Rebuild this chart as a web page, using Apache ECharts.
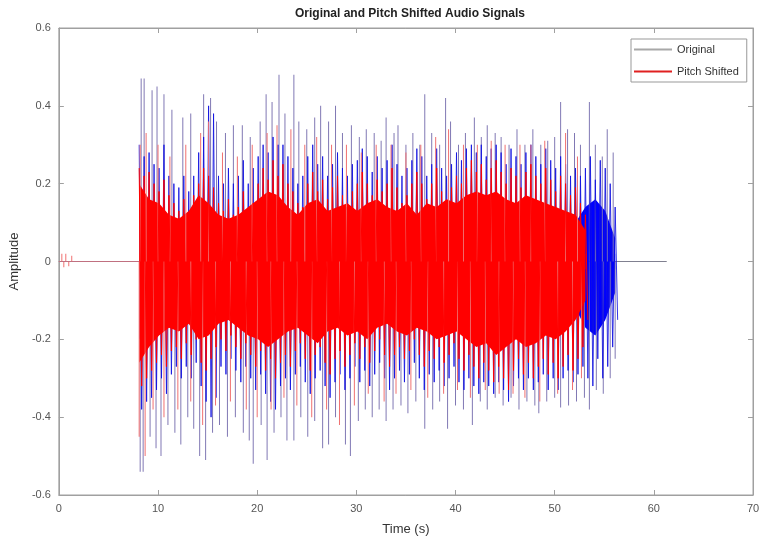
<!DOCTYPE html>
<html>
<head>
<meta charset="utf-8">
<script src="https://cdn.jsdelivr.net/npm/echarts@6/dist/echarts.min.js"></script>
<style>
  html, body { margin: 0; padding: 0; background: #fff; }
  #chart { width: 764px; height: 546px; }
</style>
</head>
<body>
<div id="chart"></div>
<script>
// tick labels
const xTicks = [0, 10, 20, 30, 40, 50, 60, 70]
const yTicks = [-0.6, -0.4, -0.2, 0, 0.2, 0.4, 0.6]

// silent parts of the two signals (time s, amplitude)
const origFlat = [[0, 0], [61.3, 0]]
const shiftFlat = [[0, 0], [8.1, 0]]

// solid core of each signal, one value per second from 8.1 s
const coreStart = 8.1
const coreStep = 1
const origCoreHi = [
  0.16, 0.13, 0.12, 0.1, 0.1, 0.11, 0.14, 0.12, 0.1, 0.1,
  0.1, 0.12, 0.13, 0.15, 0.14, 0.12, 0.1, 0.12, 0.13, 0.11,
  0.12, 0.12, 0.11, 0.12, 0.13, 0.12, 0.11, 0.12, 0.1, 0.12,
  0.12, 0.13, 0.12, 0.14, 0.15, 0.14, 0.15, 0.13, 0.12, 0.14,
  0.13, 0.12, 0.12, 0.11, 0.1, 0.14, 0.16, 0.13, 0.06
]
const origCoreLo = [
  -0.2, -0.17, -0.15, -0.13, -0.14, -0.12, -0.16, -0.15, -0.12, -0.12,
  -0.13, -0.15, -0.16, -0.17, -0.16, -0.14, -0.13, -0.15, -0.16, -0.14,
  -0.13, -0.15, -0.14, -0.16, -0.13, -0.12, -0.14, -0.15, -0.13, -0.14,
  -0.16, -0.15, -0.14, -0.16, -0.17, -0.16, -0.19, -0.17, -0.16, -0.17,
  -0.16, -0.15, -0.16, -0.14, -0.12, -0.17, -0.19, -0.15, -0.08
]
const shiftCoreHi = [
  0.2, 0.16, 0.15, 0.12, 0.11, 0.13, 0.17, 0.15, 0.12, 0.11,
  0.12, 0.14, 0.16, 0.18, 0.17, 0.14, 0.12, 0.15, 0.16, 0.13,
  0.14, 0.15, 0.13, 0.15, 0.16, 0.14, 0.13, 0.15, 0.12, 0.15,
  0.14, 0.16, 0.15, 0.17, 0.18, 0.17, 0.18, 0.16, 0.15, 0.17,
  0.16, 0.15, 0.14, 0.13, 0.12, 0.08
]
const shiftCoreLo = [
  -0.26, -0.22, -0.19, -0.17, -0.18, -0.16, -0.2, -0.19, -0.16, -0.15,
  -0.17, -0.19, -0.2, -0.22, -0.2, -0.18, -0.17, -0.19, -0.21, -0.18,
  -0.17, -0.19, -0.18, -0.2, -0.17, -0.16, -0.18, -0.19, -0.17, -0.18,
  -0.2, -0.19, -0.18, -0.2, -0.22, -0.21, -0.24, -0.22, -0.2, -0.22,
  -0.21, -0.19, -0.2, -0.18, -0.15, -0.1
]

// oscillation envelope, one peak pair every 0.5 s from 8.1 s
const waveStart = 8.1
const waveStep = 0.5
const origHi = [
  0.3, 0.27, 0.28, 0.25, 0.24, 0.3, 0.22, 0.2, 0.19, 0.22,
  0.18, 0.22, 0.28, 0.32, 0.4, 0.38, 0.22, 0.2, 0.24, 0.2,
  0.22, 0.26, 0.2, 0.24, 0.27, 0.3, 0.28, 0.32, 0.3, 0.3,
  0.27, 0.24, 0.2, 0.22, 0.27, 0.3, 0.25, 0.27, 0.22, 0.25,
  0.28, 0.24, 0.22, 0.25, 0.26, 0.29, 0.27, 0.23, 0.27, 0.24,
  0.26, 0.3, 0.25, 0.22, 0.24, 0.26, 0.29, 0.27, 0.22, 0.25,
  0.29, 0.24, 0.22, 0.25, 0.28, 0.26, 0.29, 0.3, 0.28, 0.3,
  0.27, 0.29, 0.3, 0.28, 0.25, 0.29, 0.27, 0.25, 0.28, 0.3,
  0.27, 0.25, 0.29, 0.26, 0.24, 0.27, 0.25, 0.22, 0.24, 0.22,
  0.24, 0.27, 0.21, 0.26, 0.24, 0.2, 0.14
]
const origLo = [
  -0.38, -0.36, -0.35, -0.33, -0.3, -0.34, -0.29, -0.27, -0.3, -0.27,
  -0.3, -0.26, -0.32, -0.36, -0.4, -0.35, -0.27, -0.29, -0.25, -0.28,
  -0.31, -0.27, -0.3, -0.33, -0.29, -0.34, -0.36, -0.38, -0.32, -0.3,
  -0.33, -0.29, -0.27, -0.31, -0.34, -0.3, -0.28, -0.32, -0.35, -0.31,
  -0.29, -0.33, -0.3, -0.27, -0.31, -0.28, -0.32, -0.29, -0.26, -0.3,
  -0.33, -0.3, -0.28, -0.31, -0.29, -0.26, -0.3, -0.33, -0.29, -0.31,
  -0.28, -0.32, -0.3, -0.27, -0.31, -0.33, -0.3, -0.32, -0.34, -0.31,
  -0.32, -0.34, -0.31, -0.33, -0.36, -0.32, -0.3, -0.33, -0.3, -0.33,
  -0.31, -0.29, -0.33, -0.3, -0.33, -0.3, -0.28, -0.31, -0.29, -0.27,
  -0.3, -0.32, -0.25, -0.3, -0.27, -0.22, -0.15
]
const shiftHi = [
  0.24, 0.22, 0.23, 0.2, 0.18, 0.21, 0.17, 0.15, 0.13, 0.16,
  0.12, 0.17, 0.2, 0.24, 0.22, 0.19, 0.15, 0.13, 0.16, 0.12,
  0.14, 0.18, 0.13, 0.15, 0.2, 0.24, 0.21, 0.26, 0.22, 0.25,
  0.2, 0.18, 0.15, 0.14, 0.2, 0.23, 0.18, 0.21, 0.16, 0.19,
  0.22, 0.17, 0.14, 0.18, 0.2, 0.23, 0.2, 0.17, 0.21, 0.18,
  0.2, 0.24, 0.19, 0.15, 0.17, 0.2, 0.23, 0.2, 0.16, 0.2,
  0.24, 0.18, 0.15, 0.19, 0.22, 0.2, 0.24, 0.26, 0.23, 0.25,
  0.21, 0.24, 0.26, 0.23, 0.2, 0.24, 0.22, 0.19, 0.23, 0.25,
  0.22, 0.2, 0.24, 0.21, 0.18, 0.22, 0.2, 0.17, 0.19, 0.15, 0.12
]
const shiftLo = [
  -0.32, -0.3, -0.28, -0.26, -0.24, -0.27, -0.23, -0.22, -0.25, -0.21,
  -0.24, -0.2, -0.26, -0.28, -0.25, -0.22, -0.2, -0.23, -0.19, -0.22,
  -0.25, -0.21, -0.24, -0.27, -0.23, -0.28, -0.25, -0.3, -0.26, -0.24,
  -0.27, -0.23, -0.21, -0.25, -0.28, -0.24, -0.22, -0.26, -0.29, -0.25,
  -0.23, -0.27, -0.24, -0.21, -0.25, -0.22, -0.26, -0.23, -0.2, -0.24,
  -0.27, -0.24, -0.22, -0.25, -0.23, -0.2, -0.24, -0.27, -0.23, -0.25,
  -0.22, -0.26, -0.24, -0.21, -0.25, -0.28, -0.24, -0.27, -0.3, -0.26,
  -0.28, -0.31, -0.27, -0.3, -0.33, -0.28, -0.25, -0.29, -0.26, -0.3,
  -0.27, -0.25, -0.29, -0.26, -0.3, -0.27, -0.24, -0.28, -0.25, -0.22, -0.15
]

// tall thin peaks (time s, amplitude)
const origPeaksUp = [
  [8.3, 0.47], [8.6, 0.47], [9.4, 0.44], [9.9, 0.45], [10.6, 0.43], [11.4, 0.39],
  [12.5, 0.37], [13.3, 0.38], [14.6, 0.43], [15.3, 0.42], [15.9, 0.36], [16.8, 0.33],
  [17.6, 0.35], [18.5, 0.35], [19.3, 0.32], [20.3, 0.36], [20.9, 0.43], [21.5, 0.41],
  [22.2, 0.48], [22.8, 0.38], [23.7, 0.48], [24.2, 0.36], [25.0, 0.34], [25.8, 0.37],
  [26.4, 0.4], [27.2, 0.36], [27.9, 0.4], [28.6, 0.33], [29.5, 0.35], [30.3, 0.32],
  [31.0, 0.34], [31.8, 0.33], [32.5, 0.31], [33.0, 0.37], [33.8, 0.33], [34.2, 0.35],
  [35.0, 0.3], [35.7, 0.33], [36.4, 0.3], [36.9, 0.43], [37.6, 0.33], [38.4, 0.3],
  [39.0, 0.42], [39.5, 0.36], [40.3, 0.3], [41.0, 0.33], [41.9, 0.37], [42.6, 0.32],
  [43.2, 0.35], [44.0, 0.33], [44.6, 0.32], [45.4, 0.3], [46.2, 0.34], [47.0, 0.3],
  [47.8, 0.34], [48.6, 0.3], [49.3, 0.31], [50.0, 0.32], [50.6, 0.41], [51.3, 0.34],
  [52.0, 0.33], [52.6, 0.3], [53.5, 0.41], [54.1, 0.3], [54.8, 0.27], [55.3, 0.34], [55.9, 0.28]
]
const origPeaksDown = [
  [8.2, -0.54], [8.5, -0.54], [9.2, -0.45], [9.8, -0.48], [10.3, -0.5], [11.0, -0.42],
  [11.7, -0.44], [12.3, -0.47], [13.0, -0.4], [13.6, -0.43], [14.2, -0.5], [14.8, -0.51],
  [15.5, -0.44], [16.2, -0.42], [17.0, -0.45], [17.8, -0.4], [18.6, -0.44], [19.2, -0.46],
  [19.6, -0.52], [20.4, -0.42], [21.0, -0.51], [21.7, -0.44], [22.4, -0.4], [23.0, -0.46],
  [23.7, -0.46], [24.4, -0.4], [25.1, -0.45], [25.8, -0.41], [26.6, -0.48], [27.2, -0.47],
  [27.9, -0.4], [28.9, -0.47], [29.4, -0.5], [30.2, -0.41], [30.9, -0.38], [31.6, -0.4],
  [32.3, -0.38], [33.0, -0.41], [33.7, -0.38], [34.5, -0.37], [35.2, -0.39], [36.0, -0.36],
  [36.9, -0.43], [37.7, -0.38], [38.4, -0.36], [39.2, -0.43], [40.0, -0.37], [40.8, -0.38],
  [41.7, -0.42], [42.5, -0.36], [43.2, -0.38], [44.0, -0.35], [44.8, -0.37], [45.6, -0.35],
  [46.4, -0.38], [47.2, -0.36], [48.0, -0.37], [48.4, -0.39], [49.2, -0.36], [50.0, -0.35],
  [50.6, -0.375], [51.4, -0.37], [52.2, -0.36], [53.0, -0.35], [53.5, -0.38], [54.2, -0.33],
  [54.9, -0.34], [55.6, -0.3], [56.1, -0.25]
]
const shiftPeaksUp = [
  [0.3, 0.02], [0.7, 0.02], [1.3, 0.015],
  [8.2, 0.3], [8.8, 0.33], [10.0, 0.3], [11.2, 0.27], [12.8, 0.3], [14.3, 0.33],
  [15.1, 0.36], [16.5, 0.28], [18.0, 0.27], [19.5, 0.3], [21.0, 0.33], [22.0, 0.35],
  [23.4, 0.34], [24.8, 0.3], [26.0, 0.32], [27.5, 0.3], [29.0, 0.3], [30.5, 0.28],
  [32.0, 0.3], [33.5, 0.3], [35.0, 0.28], [36.5, 0.3], [38.0, 0.32], [39.3, 0.34],
  [40.8, 0.3], [42.2, 0.3], [43.6, 0.31], [45.0, 0.3], [46.5, 0.3], [47.6, 0.3],
  [49.0, 0.31], [51.1, 0.33], [52.3, 0.27]
]
const shiftPeaksDown = [
  [0.5, -0.015], [1.0, -0.012],
  [8.1, -0.45], [8.7, -0.5], [9.5, -0.38], [10.6, -0.4], [12.0, -0.38], [13.3, -0.36],
  [14.5, -0.42], [15.8, -0.37], [17.3, -0.36], [18.9, -0.38], [20.0, -0.4], [21.4, -0.38],
  [22.7, -0.35], [24.0, -0.37], [25.5, -0.4], [27.0, -0.38], [28.3, -0.42], [29.8, -0.37],
  [31.2, -0.34], [32.8, -0.36], [34.0, -0.34], [35.5, -0.33], [37.2, -0.35], [38.8, -0.34],
  [40.2, -0.33], [41.5, -0.35], [43.0, -0.33], [44.4, -0.34], [45.8, -0.34], [47.0, -0.35],
  [48.5, -0.36], [50.3, -0.34], [51.8, -0.33], [52.7, -0.3]
]

const BLUE = '#0000ff'
const RED = '#ff0000'
const AXIS = '#a0a0a0'

// samples on a regular time grid
function sampled(values, start, step) {
  return values.map((v, i) => [start + i * step, v])
}

// alternate each positive peak with its negative peak half a step later
function oscillation(hi, lo, start, step) {
  const pts = []
  hi.forEach((v, i) => {
    pts.push([start + i * step, v])
    pts.push([start + i * step + step / 2, lo[i]])
  })
  return pts
}

// filled half of the core; the two halves overlap a little around zero
function coreSeries(name, values, color, origin, z) {
  return {
    name: name,
    type: 'line',
    z: z,
    data: sampled(values, coreStart, coreStep),
    symbol: 'none',
    lineStyle: { width: 0 },
    areaStyle: { color: color, opacity: 1, origin: origin },
    itemStyle: { color: color }
  }
}

function waveSeries(name, hi, lo, color, opacity, z) {
  return {
    name: name,
    type: 'line',
    z: z,
    data: oscillation(hi, lo, waveStart, waveStep),
    symbol: 'none',
    lineStyle: { color: color, width: 1, opacity: opacity },
    itemStyle: { color: color }
  }
}

function peakSeries(name, values, color, z) {
  return {
    name: name,
    type: 'bar',
    z: z,
    data: values,
    barWidth: 1,
    barGap: '-100%',
    itemStyle: { color: color }
  }
}

function flatSeries(name, values, color, z) {
  return {
    name: name,
    type: 'line',
    z: z,
    data: values,
    symbol: 'none',
    lineStyle: { color: color, width: 1 },
    itemStyle: { color: color }
  }
}

const chart = echarts.init(document.getElementById('chart'))
const option = {
  animation: false,
  backgroundColor: '#fff',
  title: {
    text: 'Original and Pitch Shifted Audio Signals',
    left: 405,
    textAlign: 'center',
    top: 3,
    textStyle: { fontFamily: 'Liberation Sans', fontSize: 12, fontWeight: 'bold', color: '#222' }
  },
  legend: {
    data: [
      { name: 'Original', icon: 'rect', itemStyle: { color: '#a8a8a8' } },
      { name: 'Pitch Shifted', icon: 'rect', itemStyle: { color: '#e02020' } }
    ],
    orient: 'vertical',
    left: 631,
    top: 39,
    padding: [4, 8, 4, 3],
    itemGap: 9,
    itemWidth: 38,
    itemHeight: 2,
    borderColor: '#999',
    borderWidth: 1,
    borderRadius: 0,
    backgroundColor: '#fff',
    textStyle: { fontFamily: 'Liberation Sans', fontSize: 11, color: '#333', lineHeight: 13 }
  },
  grid: { left: 58, right: 11, top: 28, bottom: 51, show: true, borderColor: AXIS, borderWidth: 1 },
  xAxis: [
    {
      type: 'value',
      min: xTicks[0],
      max: xTicks[xTicks.length - 1],
      interval: 10,
      name: 'Time (s)',
      nameLocation: 'middle',
      nameGap: 28,
      nameTextStyle: { fontFamily: 'Liberation Sans', fontSize: 13, color: '#333' },
      axisLine: { onZero: false, lineStyle: { color: AXIS } },
      axisTick: { inside: true, length: 5, lineStyle: { color: AXIS } },
      axisLabel: { fontFamily: 'Liberation Sans', fontSize: 11, color: '#555', margin: 8 },
      splitLine: { show: false }
    },
    {
      type: 'value',
      position: 'top',
      min: xTicks[0],
      max: xTicks[xTicks.length - 1],
      interval: 10,
      axisLine: { onZero: false, lineStyle: { color: AXIS } },
      axisTick: { inside: true, length: 5, lineStyle: { color: AXIS } },
      axisLabel: { show: false },
      splitLine: { show: false }
    }
  ],
  yAxis: [
    {
      type: 'value',
      min: yTicks[0],
      max: yTicks[yTicks.length - 1],
      interval: 0.2,
      name: 'Amplitude',
      nameLocation: 'middle',
      nameGap: 36,
      nameTextStyle: { fontFamily: 'Liberation Sans', fontSize: 13, color: '#333' },
      axisLine: { show: true, onZero: false, lineStyle: { color: AXIS } },
      axisTick: { show: true, inside: true, length: 5, lineStyle: { color: AXIS } },
      axisLabel: {
        fontFamily: 'Liberation Sans', fontSize: 11, color: '#555', margin: 8,
        formatter: v => String(Math.round(v * 10) / 10)
      },
      splitLine: { show: false }
    },
    {
      type: 'value',
      position: 'right',
      min: yTicks[0],
      max: yTicks[yTicks.length - 1],
      interval: 0.2,
      axisLine: { show: true, onZero: false, lineStyle: { color: AXIS } },
      axisTick: { show: true, inside: true, length: 5, lineStyle: { color: AXIS } },
      axisLabel: { show: false },
      splitLine: { show: false }
    }
  ],
  // z keeps every part of the pitch shifted signal above the original
  series: [
    flatSeries('Original', origFlat, '#808090', 1),
    peakSeries('orig-peaks', origPeaksUp.concat(origPeaksDown), '#8078b4', 2),
    waveSeries('orig-wave', origHi, origLo, '#1010e0', 0.85, 2),
    coreSeries('orig-core-hi', origCoreHi, BLUE, -0.02, 2),
    coreSeries('orig-core-lo', origCoreLo, BLUE, 0.02, 2),
    peakSeries('shift-peaks', shiftPeaksUp.concat(shiftPeaksDown), '#f07070', 3),
    waveSeries('shift-wave', shiftHi, shiftLo, RED, 1, 3),
    coreSeries('shift-core-hi', shiftCoreHi, RED, -0.02, 3),
    coreSeries('shift-core-lo', shiftCoreLo, RED, 0.02, 3),
    flatSeries('Pitch Shifted', shiftFlat, '#c07080', 3)
  ]
}
chart.setOption(option)
</script>
</body>
</html>
